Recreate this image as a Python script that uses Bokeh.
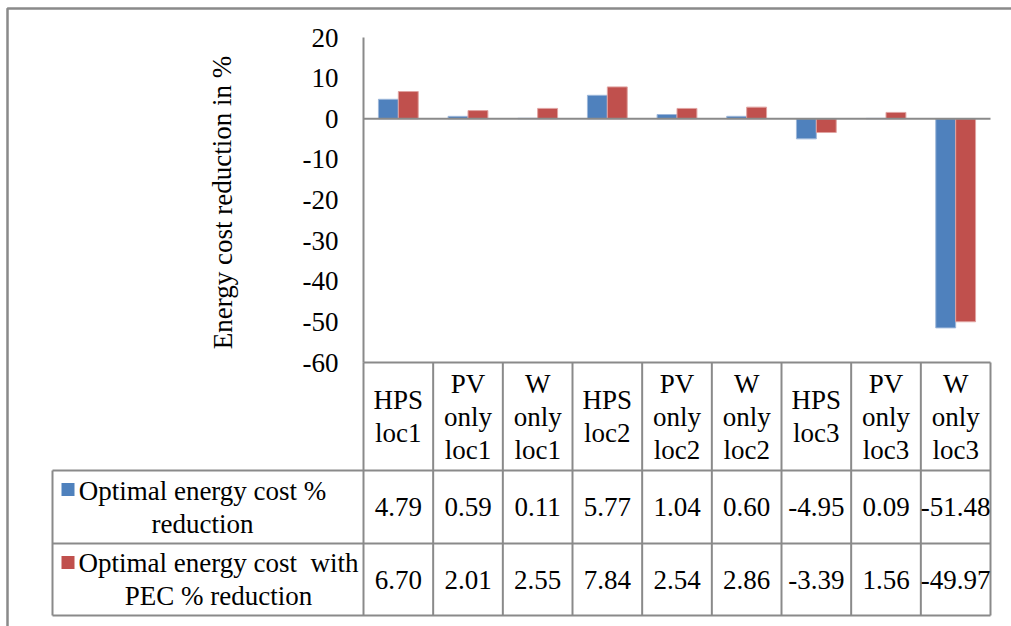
from bokeh.plotting import figure
from bokeh.models import Range1d, ColumnDataSource
from bokeh.core.properties import value
from bokeh.embed import file_html
from bokeh.resources import INLINE

# ---- data -------------------------------------------------------------
categories = ["HPS loc1", "PV only loc1", "W only loc1",
              "HPS loc2", "PV only loc2", "W only loc2",
              "HPS loc3", "PV only loc3", "W only loc3"]
optimal = [4.79, 0.59, 0.11, 5.77, 1.04, 0.60, -4.95, 0.09, -51.48]
optimal_pec = [6.70, 2.01, 2.55, 7.84, 2.54, 2.86, -3.39, 1.56, -49.97]
series_names = ["Optimal energy cost %\nreduction",
                "Optimal energy cost \u00a0with\nPEC % reduction"]
y_ticks = [20, 10, 0, -10, -20, -30, -40, -50, -60]
y_title = "Energy cost reduction in %"

# ---- geometry ---------------------------------------------------------
W, H = 1011, 626
AXIS_X = 363          # left edge of plotting area (px)
RIGHT_X = 990         # right edge of plotting area (px)
TOP_PX, BOT_PX = 37, 362
Y_MAX, Y_MIN = 20, -60
N = len(categories)
CAT_W = (RIGHT_X - AXIS_X) / N
PPU = (BOT_PX - TOP_PX) / (Y_MAX - Y_MIN)


def dx(px):
    return (px - AXIS_X) / CAT_W


def dy(py):
    return Y_MAX - (py - TOP_PX) / PPU


FONT = value("Liberation Serif")
FS = "27px"
LH = 1.1
GRID = "#8a8a8a"
BLUE, RED = "#4F81BD", "#C0504D"
BLUE_EDGE, RED_EDGE = "#9DB7DA", "#E0A3A1"

p = figure(width=W, height=H, x_range=Range1d(dx(0), dx(W)),
           y_range=Range1d(dy(H), dy(0)), output_backend="svg",
           toolbar_location=None, x_axis_type=None, y_axis_type=None,
           min_border=0, outline_line_color=None)
p.grid.visible = False

# outer chart border (left and top edges)
p.line(x=[dx(7), dx(7), dx(W + 5)], y=[dy(H + 5), dy(8), dy(8)],
       line_color=GRID, line_width=2.5)

# ---- bars -------------------------------------------------------------
bw = 1 / 3.5
idx = list(range(N))
src = ColumnDataSource(dict(
    xb=[i + 0.5 - bw / 2 for i in idx],
    xr=[i + 0.5 + bw / 2 for i in idx],
    opt=optimal, pec=optimal_pec))
p.vbar(x="xb", top="opt", bottom=0, width=bw, source=src,
       fill_color=BLUE, line_color=BLUE_EDGE, line_width=1)
p.vbar(x="xr", top="pec", bottom=0, width=bw, source=src,
       fill_color=RED, line_color=RED_EDGE, line_width=1)

# value axis line, zero line, tick labels, title
p.line(x=[0, 0], y=[Y_MIN, Y_MAX], line_color=GRID, line_width=2)
p.line(x=[0, N], y=[0, 0], line_color=GRID, line_width=2)
p.text(x=[dx(338)] * len(y_ticks), y=y_ticks, text=[str(t) for t in y_ticks],
       text_font=FONT, text_font_size=FS, text_align="right",
       text_baseline="middle", text_color="black")
p.text(x=[dx(222)], y=[dy(202)], text=[y_title], angle=1.5708,
       text_font=FONT, text_font_size=FS, text_align="center",
       text_baseline="middle", text_color="black")

# ---- data table -------------------------------------------------------
ROW_TOP, ROW1, ROW2, ROW_BOT = BOT_PX, 470, 543, 615
LEG_X = 52
# vertical separators
for k in range(N + 1):
    p.line(x=[k, k], y=[dy(ROW_TOP), dy(ROW_BOT)], line_color=GRID, line_width=2)
p.line(x=[dx(LEG_X), dx(LEG_X)], y=[dy(ROW1), dy(ROW_BOT)],
       line_color=GRID, line_width=2)
# horizontal separators
p.line(x=[0, N], y=[dy(ROW_TOP), dy(ROW_TOP)], line_color=GRID, line_width=2)
for r in (ROW1, ROW2, ROW_BOT):
    p.line(x=[dx(LEG_X), N], y=[dy(r), dy(r)], line_color=GRID, line_width=2)

centers = [i + 0.5 for i in idx]
p.text(x=centers, y=[dy((ROW_TOP + ROW1) / 2)] * N,
       text=[c.replace(" ", "\n") for c in categories],
       text_font=FONT, text_font_size=FS, text_align="center",
       text_baseline="middle", text_line_height=LH, text_color="black")
for r0, r1, vals in ((ROW1, ROW2, optimal), (ROW2, ROW_BOT, optimal_pec)):
    p.text(x=centers, y=[dy((r0 + r1) / 2)] * N,
           text=["%.2f" % v for v in vals],
           text_font=FONT, text_font_size=FS, text_align="center",
           text_baseline="middle", text_line_height=LH, text_color="black")

# legend keys and series names in the first column
for (r0, r1), name, col, cx in (((ROW1, ROW2), series_names[0], BLUE, 202),
                                ((ROW2, ROW_BOT), series_names[1], RED, 218)):
    p.rect(x=[dx(67.5)], y=[dy(r0 + 19)], width=13 / CAT_W, height=13 / PPU,
           fill_color=col, line_color=None)
    p.text(x=[dx(cx)], y=[dy((r0 + r1) / 2)], text=[name],
           text_font=FONT, text_font_size=FS, text_align="center",
           text_baseline="middle", text_line_height=LH, text_color="black")

open("out.html", "w").write(file_html(p, INLINE))
